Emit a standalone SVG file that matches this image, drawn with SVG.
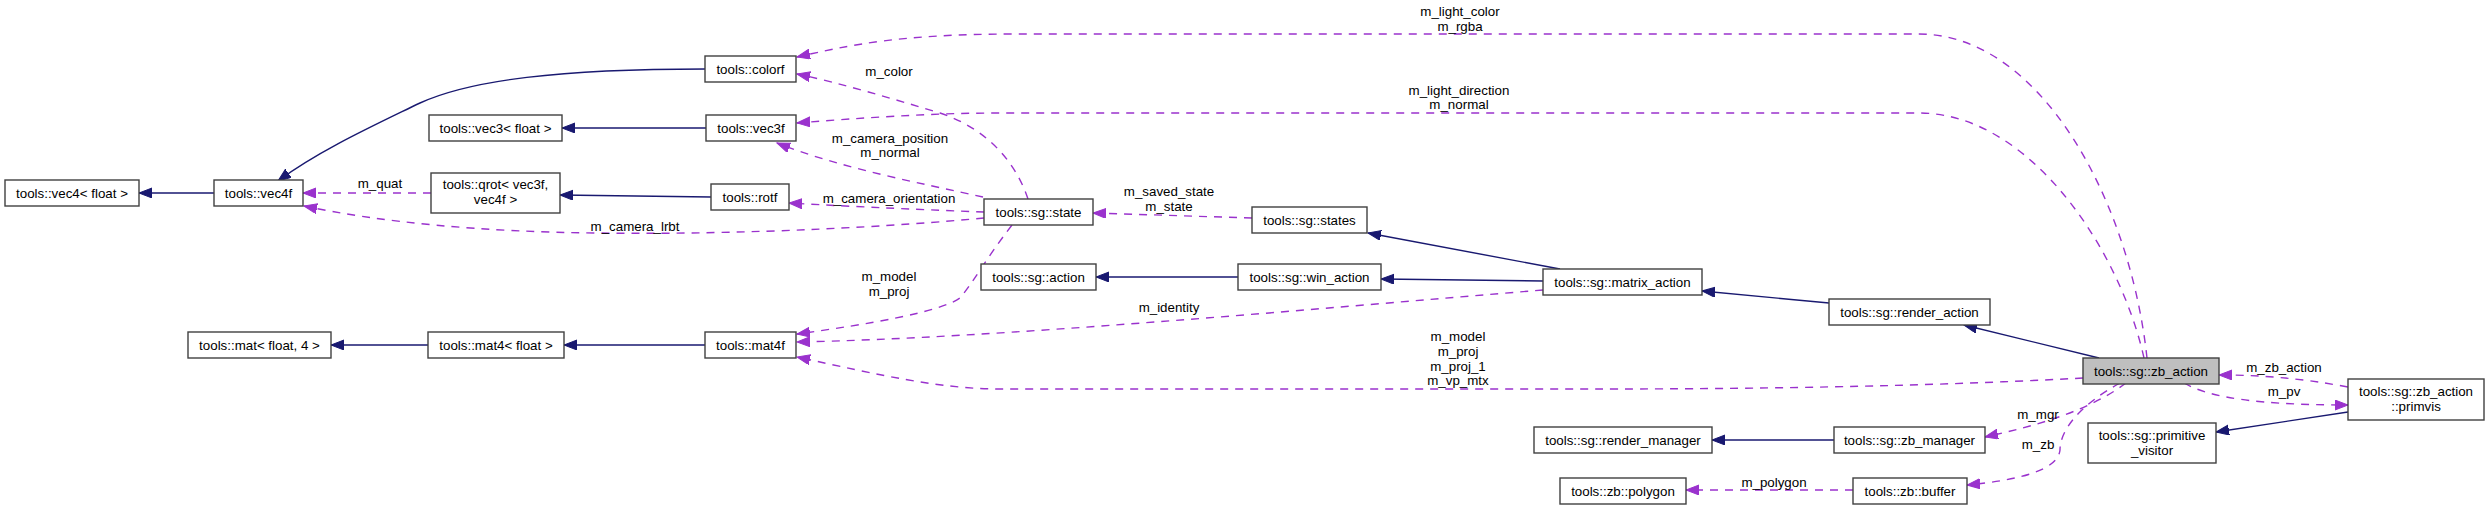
<svg xmlns="http://www.w3.org/2000/svg" width="2488" height="509" viewBox="0 0 2488 509">
<style>
.n rect{fill:#fff;stroke:#404040;stroke-width:1.4}
.n.cur rect{fill:#bfbfbf}
text{font-family:"Liberation Sans",Arial,sans-serif;font-size:13.33px;fill:#000;text-anchor:middle}
.inh{fill:none;stroke:#191970;stroke-width:1.4;marker-end:url(#an)}
.use{fill:none;stroke:#9a32cd;stroke-width:1.4;stroke-dasharray:8,7;marker-end:url(#ap)}
</style>
<defs>
<marker id="an" markerUnits="userSpaceOnUse" markerWidth="16" markerHeight="12" refX="13" refY="5" orient="auto"><path d="M0,0 L13,5 L0,10 Z" fill="#191970" stroke="#191970"/></marker>
<marker id="ap" markerUnits="userSpaceOnUse" markerWidth="16" markerHeight="12" refX="13" refY="5" orient="auto"><path d="M0,0 L13,5 L0,10 Z" fill="#9a32cd" stroke="#9a32cd"/></marker>
</defs>
<rect width="2488" height="509" fill="#fff"/>
<g id="edges">
<path class="inh" d="M214,193 L139,193"/>
<path class="inh" d="M705,69 C560,69 470,80 420,103 C375,125 320,150 278,181"/>
<path class="inh" d="M706,128 L562,128"/>
<path class="inh" d="M711,197 L560,195"/>
<path class="inh" d="M705,345 L564,345"/>
<path class="inh" d="M428,345 L331,345"/>
<path class="inh" d="M1238,277 L1096,277"/>
<path class="inh" d="M1543,281 L1381,279"/>
<path class="inh" d="M1560,269 L1368,233"/>
<path class="inh" d="M1829,303 L1702,291"/>
<path class="inh" d="M2099,358 L1964,325"/>
<path class="inh" d="M1834,440 L1712,440"/>
<path class="inh" d="M2348,412 L2216,432"/>
<path class="use" d="M2147,358 C2130,200 2040,34 1919,34 L1015,34 C900,34 850,45 797,57"/>
<path class="use" d="M2144,358 C2120,250 2030,113 1919,113 L1000,113 C930,113 860,118 797,123"/>
<path class="use" d="M1028,199 C1015,160 985,128 940,113 C890,98 840,83 797,74"/>
<path class="use" d="M983,197 C920,183 840,168 777,143"/>
<path class="use" d="M984,212 C930,210 860,207 789,203"/>
<path class="use" d="M984,218 C900,226 750,235 600,233 C480,232 380,222 304,206"/>
<path class="use" d="M431,193 L303,193"/>
<path class="use" d="M1252,218 L1093,213"/>
<path class="use" d="M1012,225 C985,260 975,280 960,298 C940,312 870,324 797,334"/>
<path class="use" d="M1543,290 C1300,310 1000,338 797,342"/>
<path class="use" d="M2083,378 C1900,388 1700,389 1600,389 L1000,389 C940,389 880,375 797,357"/>
<path class="use" d="M2348,387 C2300,378 2260,375 2219,375"/>
<path class="use" d="M2184,383 C2210,398 2260,405 2348,405"/>
<path class="use" d="M2126,383 C2090,410 2040,425 1985,437"/>
<path class="use" d="M2120,383 C2080,405 2060,430 2060,450 C2058,470 2020,480 1967,485"/>
<path class="use" d="M1853,490 L1686,490"/>
<text x="1460" y="16">m_light_color</text>
<text x="1460" y="31">m_rgba</text>
<text x="1459" y="95">m_light_direction</text>
<text x="1459" y="109">m_normal</text>
<text x="889" y="76">m_color</text>
<text x="890" y="143">m_camera_position</text>
<text x="890" y="157">m_normal</text>
<text x="889" y="203">m_camera_orientation</text>
<text x="635" y="231">m_camera_lrbt</text>
<text x="380" y="188">m_quat</text>
<text x="1169" y="196">m_saved_state</text>
<text x="1169" y="211">m_state</text>
<text x="889" y="281">m_model</text>
<text x="889" y="296">m_proj</text>
<text x="1169" y="312">m_identity</text>
<text x="1458" y="341">m_model</text>
<text x="1458" y="356">m_proj</text>
<text x="1458" y="371">m_proj_1</text>
<text x="1458" y="385">m_vp_mtx</text>
<text x="2284" y="372">m_zb_action</text>
<text x="2284" y="396">m_pv</text>
<text x="2038" y="419">m_mgr</text>
<text x="2038" y="449">m_zb</text>
<text x="1774" y="487">m_polygon</text>
</g>
<g id="n_vec4float" class="n"><rect x="5" y="180" width="134" height="26"/><text x="72" y="198">tools::vec4&lt; float &gt;</text></g>
<g id="n_vec4f" class="n"><rect x="214" y="180" width="89" height="26"/><text x="258.5" y="198">tools::vec4f</text></g>
<g id="n_colorf" class="n"><rect x="705" y="56" width="91" height="26"/><text x="750.5" y="74">tools::colorf</text></g>
<g id="n_vec3float" class="n"><rect x="429" y="115" width="133" height="26"/><text x="495.5" y="133">tools::vec3&lt; float &gt;</text></g>
<g id="n_vec3f" class="n"><rect x="706" y="115" width="90" height="26"/><text x="751" y="133">tools::vec3f</text></g>
<g id="n_qrot" class="n"><rect x="431" y="173" width="129" height="40"/><text x="495.5" y="189">tools::qrot&lt; vec3f,</text><text x="495.5" y="204">vec4f &gt;</text></g>
<g id="n_rotf" class="n"><rect x="711" y="184" width="78" height="26"/><text x="750" y="202">tools::rotf</text></g>
<g id="n_matf4" class="n"><rect x="188" y="332" width="143" height="26"/><text x="259.5" y="350">tools::mat&lt; float, 4 &gt;</text></g>
<g id="n_mat4float" class="n"><rect x="428" y="332" width="136" height="26"/><text x="496" y="350">tools::mat4&lt; float &gt;</text></g>
<g id="n_mat4f" class="n"><rect x="705" y="332" width="91" height="26"/><text x="750.5" y="350">tools::mat4f</text></g>
<g id="n_state" class="n"><rect x="984" y="199" width="109" height="26"/><text x="1038.5" y="217">tools::sg::state</text></g>
<g id="n_states" class="n"><rect x="1252" y="207" width="115" height="26"/><text x="1309.5" y="225">tools::sg::states</text></g>
<g id="n_action" class="n"><rect x="981" y="264" width="115" height="26"/><text x="1038.5" y="282">tools::sg::action</text></g>
<g id="n_win_action" class="n"><rect x="1238" y="264" width="143" height="26"/><text x="1309.5" y="282">tools::sg::win_action</text></g>
<g id="n_matrix_action" class="n"><rect x="1543" y="269" width="159" height="26"/><text x="1622.5" y="287">tools::sg::matrix_action</text></g>
<g id="n_render_action" class="n"><rect x="1829" y="299" width="161" height="26"/><text x="1909.5" y="317">tools::sg::render_action</text></g>
<g id="n_zb_action" class="n cur"><rect x="2083" y="358" width="136" height="26"/><text x="2151" y="376">tools::sg::zb_action</text></g>
<g id="n_primvis" class="n"><rect x="2348" y="379" width="136" height="41"/><text x="2416" y="396">tools::sg::zb_action</text><text x="2416" y="411">::primvis</text></g>
<g id="n_primitive_visitor" class="n"><rect x="2088" y="423" width="128" height="40"/><text x="2152" y="440">tools::sg::primitive</text><text x="2152" y="455">_visitor</text></g>
<g id="n_zb_manager" class="n"><rect x="1834" y="427" width="151" height="26"/><text x="1909.5" y="445">tools::sg::zb_manager</text></g>
<g id="n_render_manager" class="n"><rect x="1534" y="427" width="178" height="26"/><text x="1623" y="445">tools::sg::render_manager</text></g>
<g id="n_polygon" class="n"><rect x="1560" y="478" width="126" height="26"/><text x="1623" y="496">tools::zb::polygon</text></g>
<g id="n_buffer" class="n"><rect x="1853" y="478" width="114" height="26"/><text x="1910" y="496">tools::zb::buffer</text></g>
</svg>
